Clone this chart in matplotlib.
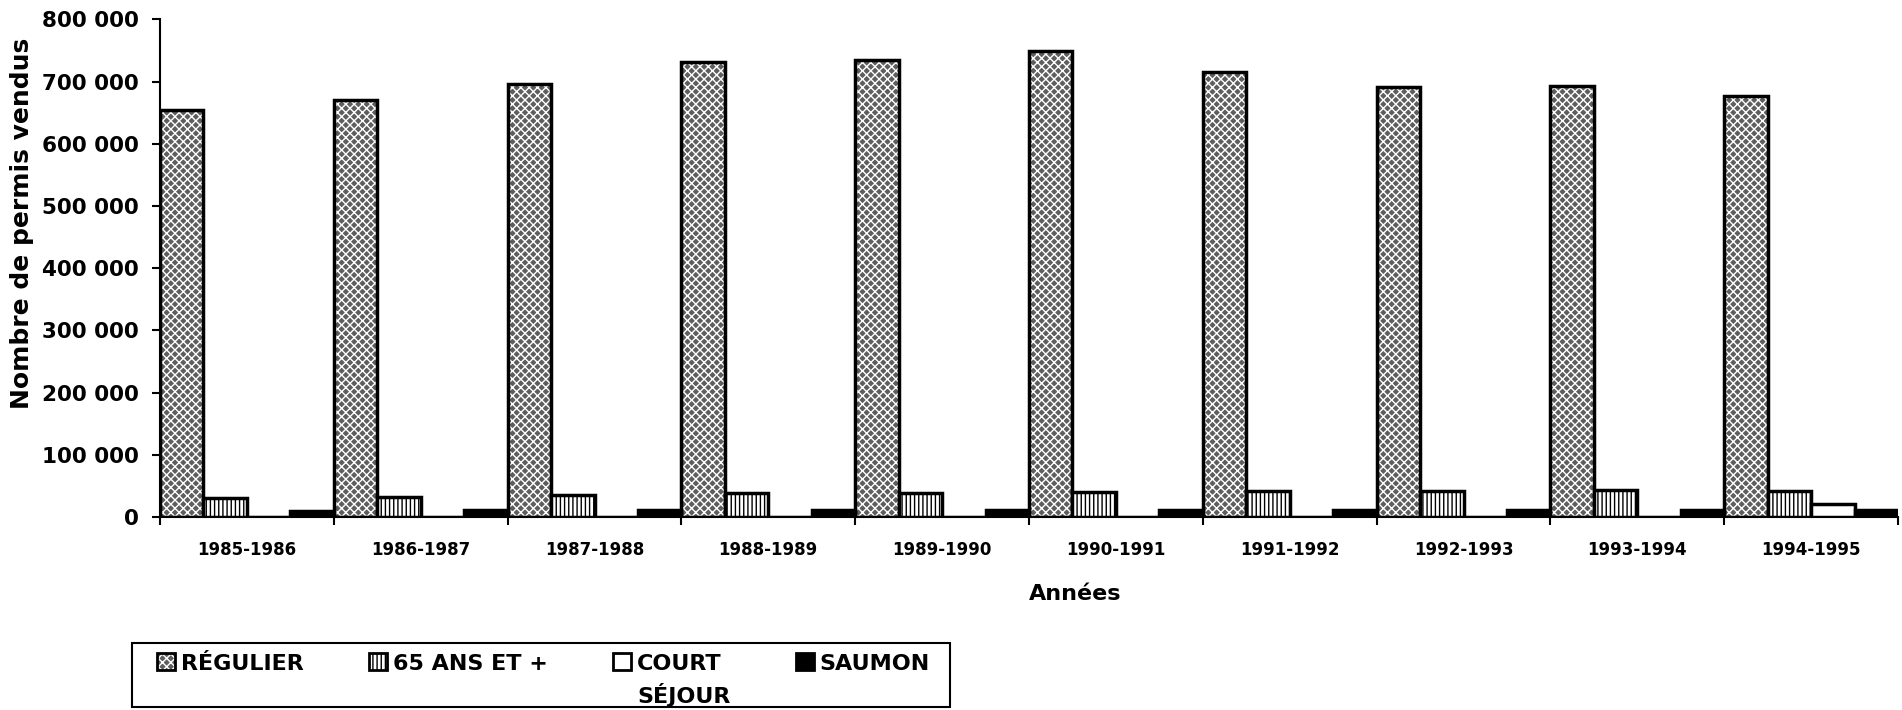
import matplotlib
matplotlib.use('Agg')
import matplotlib.pyplot as plt
import matplotlib.patches as mpatches
from matplotlib.legend_handler import HandlerPatch, HandlerTuple
from matplotlib.offsetbox import OffsetBox, TextArea
from matplotlib.path import Path
import numpy as np

# ---------------- data ----------------
years = ['1985-1986', '1986-1987', '1987-1988', '1988-1989', '1989-1990',
         '1990-1991', '1991-1992', '1992-1993', '1993-1994', '1994-1995']
regulier = [655000, 671000, 696000, 732000, 734000, 749000, 716000, 691000, 693000, 676000]
ans65 = [30000, 32000, 36000, 38500, 38500, 40000, 42000, 42000, 43000, 42000]
court = [0, 0, 0, 0, 0, 0, 0, 0, 0, 21000]
saumon = [10000, 11000, 11000, 11500, 11500, 11500, 11000, 11000, 11000, 11000]
series_labels = ['RÉGULIER', '65 ANS ET +', 'COURT\nSÉJOUR', 'SAUMON']
ytick_vals = [0, 100000, 200000, 300000, 400000, 500000, 600000, 700000, 800000]
ytick_labels = ['0', '100 000', '200 000', '300 000', '400 000',
                '500 000', '600 000', '700 000', '800 000']
x_label = 'Années'
y_label = 'Nombre de permis vendus'

# ---------------- style ----------------
plt.rcParams['font.family'] = ['DejaVu Sans']
plt.rcParams['hatch.linewidth'] = 1.0
REG_FACE = '#5e5e5e'
DPI = 100
W_PX, H_PX = 1902, 710

fig = plt.figure(figsize=(W_PX / DPI, H_PX / DPI), dpi=DPI)
ax = fig.add_axes([160 / W_PX, 1 - 517 / H_PX, 1738 / W_PX, (517 - 19.3) / H_PX])

n = len(years)
x = np.arange(n)
w = 0.25
lw = 2.5

ax.bar(x, regulier, w, align='edge', color=REG_FACE, edgecolor='white',
       hatch='xxxx', linewidth=0, zorder=2)
ax.bar(x, regulier, w, align='edge', fill=False, edgecolor='black',
       linewidth=lw, zorder=3)
ax.bar(x + w, ans65, w, align='edge', color='white', edgecolor='black',
       hatch='||||', linewidth=lw, zorder=3)
ax.bar(x + 2 * w, court, w, align='edge', color='white', edgecolor='black',
       linewidth=lw, zorder=3)
ax.bar(x + 3 * w, saumon, w, align='edge', color='black', edgecolor='black',
       linewidth=lw, zorder=3)

ax.set_xlim(0, n)
ax.set_ylim(0, 800000)

for s in ['top', 'right']:
    ax.spines[s].set_visible(False)
for s in ['left', 'bottom']:
    ax.spines[s].set_linewidth(1.5)

ax.set_yticks(ytick_vals)
ax.set_yticklabels(ytick_labels, fontweight='bold', fontsize=15.5)
ax.tick_params(axis='y', length=6, width=1.5, pad=9)

ax.set_xticks(x + 0.5)
ax.set_xticklabels(years, fontweight='bold', fontsize=12)
ax.tick_params(axis='x', which='major', length=0, pad=17.5)
ax.set_xticks(np.arange(n + 1), minor=True)
ax.tick_params(axis='x', which='minor', length=6, width=1.5, direction='out')

ax.set_ylabel(y_label, fontsize=18, fontweight='bold', va='center')
ax.yaxis.set_label_coords(-0.0794, 0.589)
ax.set_xlabel(x_label, fontsize=16, fontweight='bold', va='center')
ax.xaxis.set_label_coords(0.5265, -0.155)

# ---------------- legend ----------------
LINE_GAP_PX = 33          # distance between the two text rows of the legend
LINE_GAP_PT = LINE_GAP_PX * 72 / DPI
FIRST_BASELINE_PX = 670   # from top of figure
TEXT_LEFT_PX, TEXT_RIGHT_PX = 157, 930
PAD_L, PAD_R, PAD_T, PAD_B = 25, 20, 11, 0   # frame padding around the content


def raised(legend, orig_handle, xdescent, ydescent, width, height, fontsize):
    # put the key square on the first text row
    return mpatches.Rectangle((-xdescent, LINE_GAP_PT), width, height)


def legend_frame(x0, y0, width, height, mutation_size):
    xa, xb = x0 - PAD_L, x0 + width + PAD_R
    ya, yb = y0 - PAD_B, y0 + height + PAD_T
    return Path([(xa, ya), (xb, ya), (xb, yb), (xa, yb), (xa, ya)], closed=True)


hp = HandlerPatch(patch_func=raised)
h_reg = (mpatches.Patch(facecolor=REG_FACE, edgecolor='white', hatch='xxxx', linewidth=0),
         mpatches.Patch(fill=False, edgecolor='black', linewidth=2))
h_65 = mpatches.Patch(facecolor='white', edgecolor='black', hatch='||||', linewidth=2)
h_court = mpatches.Patch(facecolor='white', edgecolor='black', linewidth=2)
h_saumon = mpatches.Patch(facecolor='black', edgecolor='black', linewidth=2)
labels = [lab if '\n' in lab else lab + '\n' for lab in series_labels]

leg = fig.legend([h_reg, h_65, h_court, h_saumon], labels,
                 loc='upper left',
                 bbox_to_anchor=(TEXT_LEFT_PX / W_PX, 0,
                                 (TEXT_RIGHT_PX - TEXT_LEFT_PX) / W_PX, 0.1),
                 mode='expand', ncol=4, borderaxespad=0, borderpad=0,
                 handlelength=0.81, handleheight=0.81, handletextpad=0.25,
                 frameon=True, fancybox=False, edgecolor='black', framealpha=1,
                 prop={'weight': 'bold', 'size': 16},
                 handler_map={mpatches.Patch: hp,
                              tuple: HandlerTuple(ndivide=1, pad=0)})
leg.get_frame().set_linewidth(1.5)
leg.get_frame().set_boxstyle(legend_frame)


def walk(box):
    for c in box.get_children():
        if isinstance(c, TextArea):
            c.set_multilinebaseline(False)
        elif isinstance(c, OffsetBox):
            walk(c)


walk(leg.get_children()[0])

renderer = fig.canvas.get_renderer()
max_asc = 0
for t in leg.get_texts():
    prop = t.get_fontproperties()
    _, lp_h, lp_d = renderer.get_text_width_height_descent('lp', prop, ismath=False)
    first, second = t.get_text().split('\n')[:2]
    _, h1, d1 = renderer.get_text_width_height_descent(first, prop, ismath=False)
    d1 = max(d1, lp_d)
    max_asc = max(max_asc, max(h1, lp_h) - d1)
    hh, dd = lp_h, lp_d
    if second:
        _, h2, d2 = renderer.get_text_width_height_descent(second, prop, ismath=False)
        hh, dd = max(h2, lp_h), max(d2, lp_d)
    t.set_linespacing((LINE_GAP_PX - d1) / (hh - dd))

top_px = FIRST_BASELINE_PX - max_asc
leg.set_bbox_to_anchor((TEXT_LEFT_PX / W_PX, 0,
                        (TEXT_RIGHT_PX - TEXT_LEFT_PX) / W_PX, 1 - top_px / H_PX),
                       transform=fig.transFigure)

fig.savefig('out.png', dpi=DPI, facecolor='white')
